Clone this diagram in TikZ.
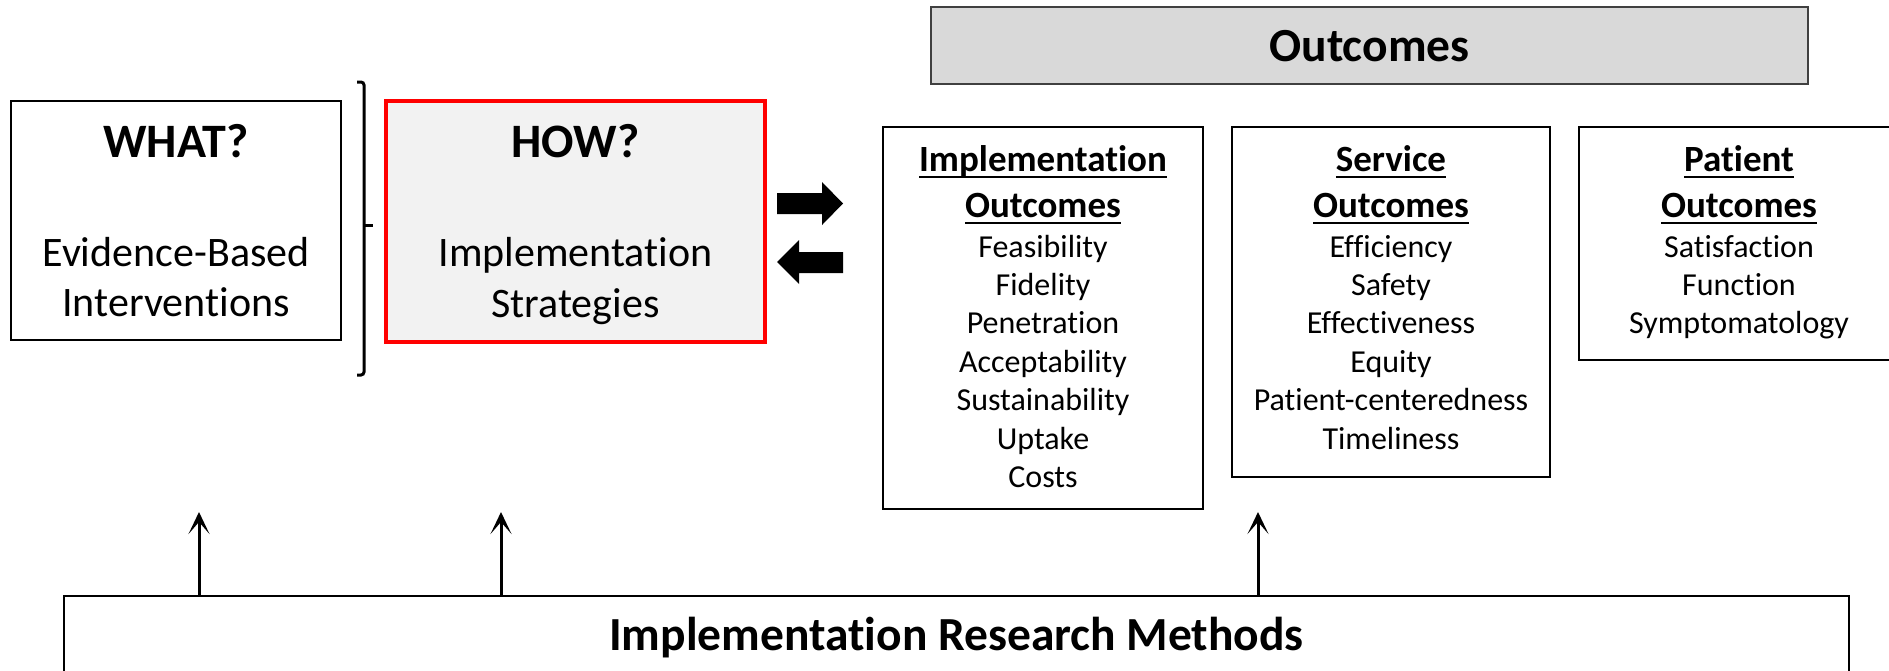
\documentclass[tikz,border=0pt]{standalone}
\usepackage{fontspec}
\setmainfont{Carlito}[Ligatures=NoCommon]
\usetikzlibrary{arrows.meta}
\definecolor{howfill}{HTML}{F2F2F2}
\definecolor{hdrfill}{HTML}{D9D9D9}
\definecolor{hdrline}{HTML}{404040}
\newcommand\myul[1]{\setbox0\hbox{#1}\rlap{\rule[-7pt]{\wd0}{2.5pt}}\box0}
\tikzset{
  box/.style={draw=black, line width=2pt, inner sep=0pt, fill=white},
  howbox/.style={draw=red, line width=4pt, inner sep=0pt, fill=howfill},
  hdrbox/.style={draw=hdrline, line width=2pt, inner sep=0pt, fill=hdrfill},
  bigbold/.style={font=\fontsize{48pt}{54pt}\selectfont\bfseries, anchor=base, inner sep=0pt},
  bigtext/.style={font=\fontsize{42pt}{50pt}\selectfont, anchor=base, inner sep=0pt},
  titletext/.style={font=\fontsize{47.5pt}{56pt}\selectfont\bfseries, anchor=base, inner sep=0pt},
  headtext/.style={font=\fontsize{37pt}{44pt}\selectfont\bfseries, anchor=base, inner sep=0pt},
  itemtext/.style={font=\fontsize{32pt}{38pt}\selectfont, anchor=base, inner sep=0pt},
  uparrow/.style={line width=3pt, -{Stealth[length=22pt,width=21pt,inset=12pt]}},
  bracket/.style={line width=3pt, rounded corners=3pt},
  blockarrow/.style={fill=black}
}
\begin{document}
\begin{tikzpicture}[x=1pt,y=-1pt]
\useasboundingbox (0,0) rectangle (1889,670);
\fill[white] (0,0) rectangle (1889,670);
\clip (0,0) rectangle (1889,670);

% header
\node[hdrbox, minimum width=877pt, minimum height=77pt] (outhdr) at (1369.5,45.5) {};
\node[titletext] (outhdrt) at (1369.5,61) {Outcomes};

% WHAT box
\node[box, minimum width=330pt, minimum height=239pt] (what) at (176,220.5) {};
\node[bigbold] (what1) at (176,157) {WHAT?};
\node[bigtext] (what2) at (176,266) {Evidence-Based};
\node[bigtext] (what3) at (176,316) {Interventions};

% bracket
\coordinate (brtop) at (357,82);
\coordinate (brbot) at (357,375);
\coordinate (brmid) at (364,225);
\coordinate (brtick) at (373,225);
\draw[bracket] (brtop) -- (364,82) -- (364,375) -- (brbot);
\draw[line width=3pt] (brmid) -- (brtick);

% HOW box
\node[howbox, minimum width=379pt, minimum height=241pt] (how) at (575.5,221.5) {};
\node[bigbold] (how1) at (575.5,157) {HOW?};
\node[bigtext] (how2) at (575.5,266) {Implementation};
\node[bigtext] (how3) at (575.5,317) {Strategies};

% block arrows
\fill[blockarrow] (777,193) -- (822,193) -- (822,182) -- (843,203.5) -- (822,225) -- (822,214) -- (777,214) -- cycle;
\fill[blockarrow] (843,252) -- (799,252) -- (799,240) -- (777,262) -- (799,284) -- (799,273) -- (843,273) -- cycle;

% Implementation outcomes
\node[box, minimum width=320pt, minimum height=382pt] (impl) at (1043,318) {};
\node[headtext] (implh1) at (1043,171) {\myul{Implementation}};
\node[headtext] (implh2) at (1043,217) {\myul{Outcomes}};
\foreach \t [count=\i] in {Feasibility,Fidelity,Penetration,Acceptability,Sustainability,Uptake,Costs}
  \node[itemtext] (impli\i) at (1043,{257+38.4*(\i-1)}) {\t};

% Service outcomes
\node[box, minimum width=318pt, minimum height=350pt] (serv) at (1391,302) {};
\node[headtext] (servh1) at (1391,171) {\myul{Service}};
\node[headtext] (servh2) at (1391,217) {\myul{Outcomes}};
\foreach \t [count=\i] in {Efficiency,Safety,Effectiveness,Equity,Patient-centeredness,Timeliness}
  \node[itemtext] (servi\i) at (1391,{257+38.4*(\i-1)}) {\t};

% Patient outcomes
\node[box, minimum width=320pt, minimum height=233pt] (pat) at (1739,243.5) {};
\node[headtext] (path1) at (1739,171) {\myul{Patient}};
\node[headtext] (path2) at (1739,217) {\myul{Outcomes}};
\foreach \t [count=\i] in {Satisfaction,Function,Symptomatology}
  \node[itemtext] (pati\i) at (1739,{257+38.4*(\i-1)}) {\t};

% Methods box
\node[box, minimum width=1785pt, minimum height=94pt] (meth) at (956.5,643) {};
\node[titletext] (metht) at (956.5,650) {Implementation Research Methods};

% up arrows
\coordinate (up1) at (199,512);
\coordinate (up2) at (501,512);
\coordinate (up3) at (1258,512);
\draw[uparrow] (meth.north -| up1) -- (up1);
\draw[uparrow] (meth.north -| up2) -- (up2);
\draw[uparrow] (meth.north -| up3) -- (up3);
\end{tikzpicture}
\end{document}
